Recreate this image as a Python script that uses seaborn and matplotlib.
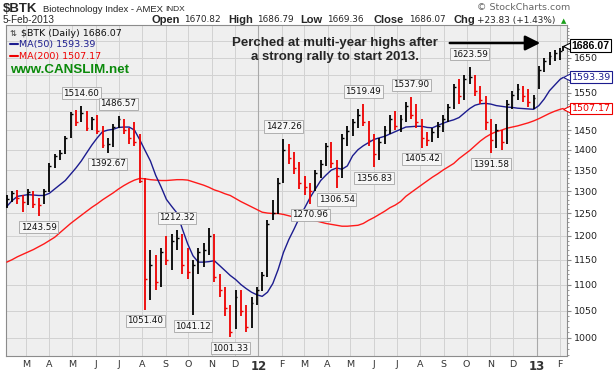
import matplotlib
matplotlib.use('Agg')
import matplotlib.pyplot as plt
import matplotlib.ticker as mticker
from matplotlib.lines import Line2D
import seaborn as sns
import pandas as pd
import numpy as np

# 周线数据：周五日期 + 最后一个交易日
dates = pd.date_range('2011-02-04', '2013-02-01', freq='W-FRI').append(pd.DatetimeIndex(['2013-02-05']))

high = [1290, 1300, 1302, 1292, 1305, 1300, 1285, 1305, 1368, 1390,
        1400, 1435, 1498, 1502, 1514.60, 1500, 1485, 1490, 1460, 1430,
        1465, 1486.57, 1480, 1455, 1470, 1440, 1330, 1170, 1160, 1175,
        1200, 1205, 1212.32, 1205, 1175, 1150, 1175, 1185, 1216, 1205,
        1120, 1095, 1060, 1090, 1090, 1060, 1075, 1095, 1125, 1235,
        1280, 1330, 1427.26, 1415, 1395, 1370, 1335, 1320, 1350, 1375,
        1418, 1420, 1375, 1440, 1460, 1480, 1505, 1519.49, 1475, 1440,
        1430, 1460, 1490, 1500, 1490, 1525, 1537.90, 1520, 1480, 1445,
        1455, 1470, 1490, 1520, 1575, 1590, 1600, 1623.59, 1600, 1570,
        1540, 1480, 1465, 1450, 1530, 1555, 1575, 1568, 1560, 1545,
        1625, 1650, 1668, 1672, 1680, 1686.79]

low = [1262, 1275, 1270, 1252, 1268, 1262, 1243.59, 1270, 1298, 1355,
       1375, 1390, 1430, 1460, 1470, 1448, 1450, 1440, 1405, 1392.67,
       1408, 1455, 1440, 1415, 1410, 1320, 1051.40, 1070, 1090, 1095,
       1140, 1130, 1170, 1120, 1110, 1041.12, 1120, 1135, 1160, 1105,
       1075, 1040, 1001.33, 1015, 1040, 1010, 1018, 1060, 1088, 1115,
       1235, 1248, 1318, 1365, 1340, 1305, 1290, 1270.96, 1300, 1330,
       1360, 1355, 1306.54, 1330, 1410, 1435, 1455, 1460, 1410, 1356.83,
       1375, 1415, 1440, 1450, 1445, 1470, 1480, 1455, 1405.42, 1410,
       1420, 1430, 1445, 1470, 1505, 1520, 1530, 1575, 1540, 1520,
       1450, 1391.58, 1405, 1400, 1415, 1505, 1530, 1525, 1510, 1505,
       1560, 1610, 1630, 1640, 1645, 1669.36]

close = [1282, 1295, 1285, 1275, 1298, 1270, 1268, 1300, 1360, 1385,
         1392, 1430, 1492, 1470, 1495, 1455, 1478, 1448, 1412, 1415,
         1458, 1478, 1450, 1430, 1420, 1325, 1110, 1140, 1105, 1165,
         1150, 1190, 1195, 1140, 1125, 1140, 1165, 1170, 1200, 1115,
         1090, 1055, 1010, 1075, 1050, 1020, 1065, 1090, 1118, 1225,
         1250, 1320, 1400, 1380, 1355, 1320, 1310, 1300, 1342, 1365,
         1410, 1368, 1335, 1430, 1448, 1470, 1490, 1470, 1425, 1390,
         1420, 1450, 1478, 1462, 1480, 1515, 1490, 1470, 1430, 1425,
         1445, 1462, 1480, 1510, 1565, 1540, 1590, 1595, 1555, 1530,
         1470, 1425, 1450, 1420, 1520, 1545, 1560, 1540, 1525, 1535,
         1615, 1640, 1655, 1665, 1670, 1686.07]

ma50 = [1265, 1278, 1288, 1290, 1292, 1291, 1290, 1290, 1295, 1305,
        1315, 1325, 1340, 1355, 1372, 1392, 1412, 1430, 1446, 1450,
        1452, 1457, 1458, 1458, 1450, 1425, 1398, 1372, 1337, 1310,
        1281, 1265, 1250, 1215, 1183, 1158, 1145, 1145, 1146, 1148,
        1138, 1128, 1118, 1110, 1100, 1092, 1085, 1080, 1077, 1085,
        1102, 1130, 1165, 1192, 1215, 1240, 1262, 1285, 1305, 1325,
        1338, 1350, 1355, 1352, 1360, 1385, 1400, 1410, 1418, 1426,
        1430, 1434, 1440, 1446, 1452, 1458, 1459, 1460, 1460, 1457,
        1456, 1462, 1468, 1473, 1477, 1483, 1495, 1507, 1516, 1520,
        1521, 1519, 1515, 1513, 1511, 1510, 1508, 1507, 1506, 1505,
        1515, 1533, 1556, 1572, 1588, 1593.39]

ma200 = [1145, 1150, 1156, 1161, 1166, 1171, 1177, 1183, 1190, 1197,
         1207, 1217, 1227, 1236, 1245, 1254, 1263, 1271, 1280, 1288,
         1296, 1305, 1313, 1320, 1326, 1330, 1329, 1327, 1326, 1325,
         1325, 1326, 1327, 1327, 1326, 1322, 1318, 1314, 1309, 1303,
         1299, 1294, 1290, 1283, 1276, 1270, 1264, 1258, 1252, 1250,
         1249, 1249, 1247, 1244, 1241, 1239, 1237, 1235, 1233, 1230,
         1227, 1225, 1223, 1221, 1221, 1222, 1223, 1227, 1234, 1240,
         1247, 1254, 1262, 1268, 1276, 1288, 1297, 1306, 1315, 1324,
         1333, 1341, 1350, 1358, 1366, 1378, 1388, 1398, 1410, 1422,
         1432, 1440, 1446, 1450, 1455, 1458, 1461, 1465, 1469, 1474,
         1480, 1487, 1494, 1500, 1505, 1507.17]

# 高低点标注
peak_labels = [1514.60, 1486.57, 1212.32, 1427.26, 1519.49, 1537.90, 1623.59]
trough_labels = [1243.59, 1392.67, 1051.40, 1041.12, 1001.33, 1270.96,
                 1306.54, 1356.83, 1405.42, 1391.58]

y_ticks = [1000, 1050, 1100, 1150, 1200, 1250, 1300, 1350, 1400, 1450,
           1500, 1550, 1600, 1650, 1700]
hidden_tick_labels = [1500, 1600, 1700]   # 被右侧数值标签盖住

sns.set_style('ticks')
plt.rcParams['font.family'] = ['DejaVu Sans']

W, H = 614, 374
fig = plt.figure(figsize=(W / 100, H / 100), dpi=100)
fig.patch.set_facecolor('white')
ax = fig.add_axes([6 / W, 18 / H, 561 / W, 331 / H])
ax.set_facecolor('#efefef')

df = pd.DataFrame({'date': dates, 'high': high, 'low': low, 'close': close,
                   'ma50': ma50, 'ma200': ma200})
prev = df['close'].shift(1).fillna(df['close'].iloc[0])
bar_colors = np.where(df['close'] >= prev, 'black', '#ee0000')

# 均线
sns.lineplot(data=df, x='date', y='ma200', color='#ff1a1a', lw=1.0, ax=ax, zorder=3)
sns.lineplot(data=df, x='date', y='ma50', color='#1c1c8f', lw=1.0, ax=ax, zorder=3)

# OHLC 线条
ax.vlines(df['date'], df['low'], df['high'], colors=bar_colors, lw=1.3, zorder=4)
ax.hlines(df['close'], df['date'], df['date'] + pd.Timedelta(days=2.5),
          colors=bar_colors, lw=1.0, zorder=4)

ax.set_yscale('log')
ax.set_ylim(968, 1750)
ax.set_xlim(pd.Timestamp('2011-02-03'), pd.Timestamp('2013-02-10'))

ax.yaxis.set_major_locator(mticker.FixedLocator(y_ticks))
ax.yaxis.set_major_formatter(mticker.FuncFormatter(
    lambda v, p: '' if round(v) in hidden_tick_labels else f'{v:.0f}'))
ax.yaxis.set_minor_locator(mticker.FixedLocator([v for v in range(970, 1750, 10) if v % 50]))
ax.yaxis.set_minor_formatter(mticker.NullFormatter())
ax.yaxis.tick_right()
ax.tick_params(axis='y', which='major', length=3, color='#888888', labelsize=6.8,
               labelcolor='#222222', pad=2)
ax.tick_params(axis='y', which='minor', length=1.5, color='#888888')

month_starts = pd.date_range('2011-03-01', '2013-02-01', freq='MS')
month_labels = [d.strftime('%y') if d.month == 1 else d.strftime('%b')[0] for d in month_starts]
ax.xaxis.set_major_locator(mticker.FixedLocator(matplotlib.dates.date2num(month_starts)))
ax.set_xticklabels(month_labels)
ax.tick_params(axis='x', length=0, labelsize=6.8, labelcolor='#333333', pad=3)
for lbl, d in zip(ax.get_xticklabels(), month_starts):
    if d.month == 1:
        lbl.set_fontweight('bold')
        lbl.set_fontsize(8.5)

ax.grid(True, which='major', color='#d2d2d2', lw=0.7)
for d in month_starts:
    if d.month == 1:
        ax.axvline(d, color='#a9a9a9', lw=0.8, zorder=1)
ax.set_axisbelow(True)
for s in ax.spines.values():
    s.set_color('#8c8c8c')
    s.set_linewidth(0.8)
ax.set_xlabel('')
ax.set_ylabel('')

box = dict(boxstyle='square,pad=0.18', fc='#f6f6f6', ec='#a5a5a5', lw=0.6)
for v in peak_labels:
    i = high.index(v)
    ax.annotate(f'{v:.2f}', xy=(dates[i], v), xytext=(0, 9), textcoords='offset points',
                ha='center', va='center', fontsize=6.3, color='#111111', bbox=box, zorder=6)
for v in trough_labels:
    i = low.index(v)
    ax.annotate(f'{v:.2f}', xy=(dates[i], v), xytext=(0, -8), textcoords='offset points',
                ha='center', va='center', fontsize=6.3, color='#111111', bbox=box, zorder=6)

# 右侧最新值标签
ytr = ax.get_yaxis_transform()
for v, c, fw in [(close[-1], 'black', 'bold'),
                 (ma50[-1], '#1c1c8f', 'normal'),
                 (ma200[-1], '#ee0000', 'normal')]:
    ax.plot([1.0], [v], marker='<', ms=6, mfc='white', mec=c, mew=0.8,
            transform=ytr, clip_on=False, zorder=9)
    if fw == 'bold':
        kw = dict(fontsize=7.6, fontweight='bold', family='Liberation Sans')
    else:
        kw = dict(fontsize=6.8)
    ax.annotate(f'{v:.2f}', xy=(1.0, v), xycoords=ytr, xytext=(3.2, 0), textcoords='offset points',
                ha='left', va='center', color=c, annotation_clip=False, zorder=10,
                bbox=dict(boxstyle='square,pad=0.15', fc='white', ec=c, lw=0.8), **kw)

# 标题区文字
def ftext(x, y, s, **kw):
    fig.text(x / W, 1 - y / H, s, va='center', **kw)

ftext(3, 9, '$BTK', fontsize=9.5, fontweight='bold', family='Liberation Sans')
ftext(43, 9, 'Biotechnology Index - AMEX', fontsize=6.8, family='Liberation Sans')
ftext(165, 9.5, 'INDX', fontsize=6.0, family='Liberation Sans')
ftext(3, 20, '5-Feb-2013', fontsize=7.2, family='Liberation Sans')
ftext(477, 7, '\u00a9 StockCharts.com', fontsize=6.8, color='#666666', family='DejaVu Sans')
for x, s, bold in [(152, 'Open', True), (184, '1670.82', False),
                   (228, 'High', True), (257, '1686.79', False),
                   (300, 'Low', True), (327, '1669.36', False),
                   (373, 'Close', True), (409, '1686.07', False),
                   (453, 'Chg', True), (477, '+23.83 (+1.43%)', False)]:
    if bold:
        ftext(x, 20, s, fontsize=8, fontweight='bold', family='Liberation Sans')
    else:
        ftext(x, 20, s, fontsize=6.4, family='DejaVu Sans')
ftext(561, 21, '\u25b2', fontsize=5, color='#1aa01a')

# 图内图例
ftext(10, 33, '\u21c5', fontsize=6, color='#333333')
ftext(21, 33, '$BTK (Daily) 1686.07', fontsize=6.8, color='#111111')
fig.add_artist(Line2D([10 / W, 18 / W], [1 - 44 / H] * 2, color='#1c1c8f', lw=1.5))
ftext(19, 44, 'MA(50) 1593.39', fontsize=6.8, color='#1c1c8f')
fig.add_artist(Line2D([10 / W, 18 / W], [1 - 56 / H] * 2, color='#ee0000', lw=1.5))
ftext(19, 56, 'MA(200) 1507.17', fontsize=6.8, color='#ee0000')
ftext(10, 70, 'www.CANSLIM.net', fontsize=9.6, fontweight='bold', color='#0b8a0b',
      family='Liberation Sans')

ftext(335, 50, 'Perched at multi-year highs after\na strong rally to start 2013.',
      ha='center', fontsize=9.5, fontweight='bold', family='Liberation Sans', linespacing=1.2)
fig.add_artist(matplotlib.patches.FancyArrowPatch(
    (447 / W, 1 - 43 / H), (543 / W, 1 - 43 / H), transform=fig.transFigure,
    arrowstyle='-|>,head_length=0.9,head_width=0.45', mutation_scale=10, lw=1.8, color='black'))

fig.savefig('out.png', dpi=100)
